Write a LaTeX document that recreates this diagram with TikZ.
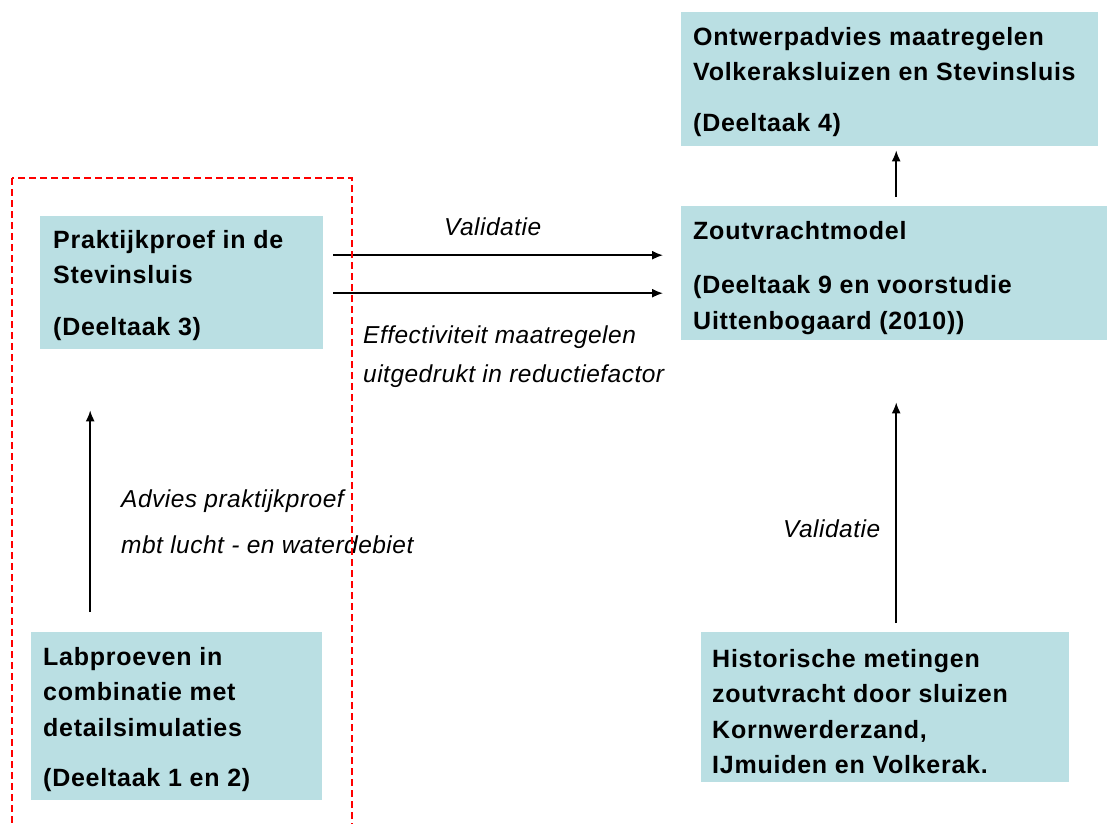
\documentclass[tikz,border=0pt]{standalone}
\usepackage{fontspec}
\setmainfont{Liberation Sans}
\usetikzlibrary{arrows.meta}
\definecolor{boxcol}{RGB}{186,223,227}
\tikzset{
  box/.style={fill=boxcol, draw=none, anchor=north west, inner sep=0pt},
  boxtext/.style={anchor=north west, align=left, inner sep=0pt,
    font=\fontsize{25}{35.5}\selectfont\bfseries\addfontfeature{LetterSpace=3}},
  lbl/.style={anchor=base west, inner sep=0pt,
    font=\fontsize{24.5}{40}\selectfont\itshape\addfontfeature{LetterSpace=2}},
  arr/.style={-{Latex[length=11pt,width=9pt]}, line width=1.5pt},
}

\begin{document}
\begin{tikzpicture}[x=1pt,y=-1pt]
        \useasboundingbox (0,0) rectangle (1107,823);
        % boxes
        \node[box, minimum width=417pt, minimum height=134pt] (ontwerp) at (681,12) {};
        \node[box, minimum width=430pt, minimum height=134pt] (zout) at (681,206) {};
        \node[box, minimum width=283pt, minimum height=133pt] (prak) at (40,216) {};
        \node[box, minimum width=291pt, minimum height=168pt] (lab) at (31,632) {};
        \node[box, minimum width=368pt, minimum height=150pt] (hist) at (701,632) {};
        % box texts
        \node[boxtext, xshift=12pt, yshift=-8pt] (ontwerpT) at (ontwerp.north west)
            {\strut Ontwerpadvies maatregelen\\ Volkeraksluizen en Stevinsluis\\[15pt] (Deeltaak 4)};
        \node[boxtext, xshift=12pt, yshift=-8pt] (zoutT) at (zout.north west)
            {\strut Zoutvrachtmodel\\[19pt] (Deeltaak 9 en voorstudie\\ Uittenbogaard (2010))};
        \node[boxtext, xshift=13pt, yshift=-7pt] (prakT) at (prak.north west)
            {\strut Praktijkproef in de\\ Stevinsluis\\[16pt] (Deeltaak 3)};
        \node[boxtext, xshift=12pt, yshift=-8pt] (labT) at (lab.north west)
            {\strut Labproeven in\\ combinatie met\\ detailsimulaties\\[15pt] (Deeltaak 1 en 2)};
        \node[boxtext, xshift=11pt, yshift=-10pt] (histT) at (hist.north west)
            {\strut Historische metingen\\ zoutvracht door sluizen\\ Kornwerderzand,\\ IJmuiden en Volkerak.};
        % labels
        \node[lbl] (val1) at (444,235) {Validatie};
        \node[lbl] (eff) at (363,343) {Effectiviteit maatregelen};
        \node[lbl] (uit) at (363,382) {uitgedrukt in reductiefactor};
        \node[lbl] (adv) at (121,507) {Advies praktijkproef};
        \node[lbl] (mbt) at (121,553) {mbt lucht - en waterdebiet};
        \node[lbl] (val2) at (783,537) {Validatie};
        % arrows
        \coordinate (r1) at ([yshift=27.5pt]prak.east);
        \coordinate (r2) at ([yshift=-10.5pt]prak.east);
        \coordinate (l1) at ([xshift=-86.5pt]lab.north);
        \draw[arr, shorten <=10pt, shorten >=18pt] (r1) -- (r1 -| zout.west);
        \draw[arr, shorten <=10pt, shorten >=18pt] (r2) -- (r2 -| zout.west);
        \draw[arr, shorten <=9pt, shorten >=4pt] (zout.north) -- (zout.north |- ontwerp.south);
        \draw[arr, shorten <=9pt, shorten >=62pt] (zout.south |- hist.north) -- (zout.south);
        \draw[arr, shorten <=20pt, shorten >=61pt] (l1) -- (l1 |- prak.south);
        % dashed frame
        \draw[red, line width=1.2pt, dash pattern=on 7pt off 4pt] (12,178) rectangle (352,840);
\end{tikzpicture}
\end{document}
